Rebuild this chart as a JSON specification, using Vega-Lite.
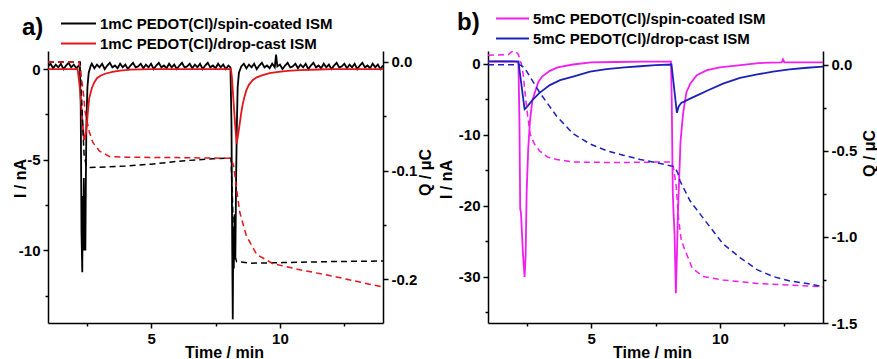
{
"$schema": "https://vega.github.io/schema/vega-lite/v6.json",
"padding": {"left": 12, "top": 10, "right": 0, "bottom": 0},
"spacing": 5,
"config": {
 "locale": {"number": {"decimal": ".", "thousands": ",", "grouping": [3], "currency": ["$", ""], "minus": "-"}},
 "view": {"stroke": null},
 "font": "Liberation Sans",
 "axis": {"domainColor": "#000", "domainWidth": 1.5, "tickColor": "#000", "tickWidth": 1.5, "tickSize": 5, "labelFont": "Liberation Sans", "labelFontSize": 15, "labelFontWeight": "bold", "labelColor": "#000", "titleFont": "Liberation Sans", "titleFontSize": 16, "titleFontWeight": "bold", "titleColor": "#000", "grid": false, "labelPadding": 3},
 "legend": {"orient": "none", "title": null, "symbolType": "stroke", "symbolStrokeWidth": 2, "labelFont": "Liberation Sans", "labelFontSize": 15, "labelFontWeight": "bold", "labelColor": "#000", "labelOffset": 3, "clipHeight": 17, "rowPadding": 3, "padding": 0, "labelLimit": 400},
 "title": {"font": "Liberation Sans", "fontSize": 24, "fontWeight": "bold", "color": "#000", "anchor": "start", "frame": "group"}
},
"resolve": {"scale": {"color": "independent"}, "legend": {"color": "independent"}},
"datasets": {
"a": [
{"s":"1mC PEDOT(Cl)/spin-coated ISM","k":"I","t":1.0,"v":0.15},{"s":"1mC PEDOT(Cl)/spin-coated ISM","k":"I","t":1.1,"v":0.3},{"s":"1mC PEDOT(Cl)/spin-coated ISM","k":"I","t":1.2,"v":0.05},{"s":"1mC PEDOT(Cl)/spin-coated ISM","k":"I","t":1.3,"v":0.25},{"s":"1mC PEDOT(Cl)/spin-coated ISM","k":"I","t":1.4,"v":0.1},{"s":"1mC PEDOT(Cl)/spin-coated ISM","k":"I","t":1.5,"v":0.3},{"s":"1mC PEDOT(Cl)/spin-coated ISM","k":"I","t":1.6,"v":0.0},{"s":"1mC PEDOT(Cl)/spin-coated ISM","k":"I","t":1.7,"v":0.2},{"s":"1mC PEDOT(Cl)/spin-coated ISM","k":"I","t":1.8,"v":0.35},{"s":"1mC PEDOT(Cl)/spin-coated ISM","k":"I","t":1.9,"v":0.1},{"s":"1mC PEDOT(Cl)/spin-coated ISM","k":"I","t":2.0,"v":0.25},{"s":"1mC PEDOT(Cl)/spin-coated ISM","k":"I","t":2.1,"v":0.05},{"s":"1mC PEDOT(Cl)/spin-coated ISM","k":"I","t":2.2,"v":0.2},
{"s":"1mC PEDOT(Cl)/spin-coated ISM","k":"I","t":2.24,"v":0.1},{"s":"1mC PEDOT(Cl)/spin-coated ISM","k":"I","t":2.27,"v":-2},{"s":"1mC PEDOT(Cl)/spin-coated ISM","k":"I","t":2.3,"v":-9},{"s":"1mC PEDOT(Cl)/spin-coated ISM","k":"I","t":2.33,"v":-11.2},{"s":"1mC PEDOT(Cl)/spin-coated ISM","k":"I","t":2.35,"v":-7},{"s":"1mC PEDOT(Cl)/spin-coated ISM","k":"I","t":2.37,"v":-10},{"s":"1mC PEDOT(Cl)/spin-coated ISM","k":"I","t":2.39,"v":-6},{"s":"1mC PEDOT(Cl)/spin-coated ISM","k":"I","t":2.41,"v":-10},{"s":"1mC PEDOT(Cl)/spin-coated ISM","k":"I","t":2.43,"v":-7},{"s":"1mC PEDOT(Cl)/spin-coated ISM","k":"I","t":2.45,"v":-10},{"s":"1mC PEDOT(Cl)/spin-coated ISM","k":"I","t":2.47,"v":-6},{"s":"1mC PEDOT(Cl)/spin-coated ISM","k":"I","t":2.49,"v":-3},{"s":"1mC PEDOT(Cl)/spin-coated ISM","k":"I","t":2.53,"v":-1},{"s":"1mC PEDOT(Cl)/spin-coated ISM","k":"I","t":2.58,"v":-0.2},{"s":"1mC PEDOT(Cl)/spin-coated ISM","k":"I","t":2.65,"v":0.15},
{"s":"1mC PEDOT(Cl)/spin-coated ISM","k":"I","t":2.7,"v":0.3},{"s":"1mC PEDOT(Cl)/spin-coated ISM","k":"I","t":2.8,"v":0.05},{"s":"1mC PEDOT(Cl)/spin-coated ISM","k":"I","t":2.9,"v":0.25},{"s":"1mC PEDOT(Cl)/spin-coated ISM","k":"I","t":3.0,"v":0.1},{"s":"1mC PEDOT(Cl)/spin-coated ISM","k":"I","t":3.1,"v":0.3},{"s":"1mC PEDOT(Cl)/spin-coated ISM","k":"I","t":3.2,"v":0.0},{"s":"1mC PEDOT(Cl)/spin-coated ISM","k":"I","t":3.3,"v":0.2},{"s":"1mC PEDOT(Cl)/spin-coated ISM","k":"I","t":3.4,"v":0.35},{"s":"1mC PEDOT(Cl)/spin-coated ISM","k":"I","t":3.5,"v":0.1},{"s":"1mC PEDOT(Cl)/spin-coated ISM","k":"I","t":3.6,"v":0.2},{"s":"1mC PEDOT(Cl)/spin-coated ISM","k":"I","t":3.7,"v":0.05},{"s":"1mC PEDOT(Cl)/spin-coated ISM","k":"I","t":3.8,"v":0.3},{"s":"1mC PEDOT(Cl)/spin-coated ISM","k":"I","t":3.9,"v":0.1},{"s":"1mC PEDOT(Cl)/spin-coated ISM","k":"I","t":4.0,"v":0.25},{"s":"1mC PEDOT(Cl)/spin-coated ISM","k":"I","t":4.1,"v":0.0},{"s":"1mC PEDOT(Cl)/spin-coated ISM","k":"I","t":4.2,"v":0.2},{"s":"1mC PEDOT(Cl)/spin-coated ISM","k":"I","t":4.3,"v":0.35},{"s":"1mC PEDOT(Cl)/spin-coated ISM","k":"I","t":4.4,"v":0.1},{"s":"1mC PEDOT(Cl)/spin-coated ISM","k":"I","t":4.5,"v":0.15},{"s":"1mC PEDOT(Cl)/spin-coated ISM","k":"I","t":4.6,"v":0.3},{"s":"1mC PEDOT(Cl)/spin-coated ISM","k":"I","t":4.7,"v":0.05},{"s":"1mC PEDOT(Cl)/spin-coated ISM","k":"I","t":4.8,"v":0.25},{"s":"1mC PEDOT(Cl)/spin-coated ISM","k":"I","t":4.9,"v":0.1},{"s":"1mC PEDOT(Cl)/spin-coated ISM","k":"I","t":5.0,"v":0.3},{"s":"1mC PEDOT(Cl)/spin-coated ISM","k":"I","t":5.1,"v":0.0},{"s":"1mC PEDOT(Cl)/spin-coated ISM","k":"I","t":5.2,"v":0.2},{"s":"1mC PEDOT(Cl)/spin-coated ISM","k":"I","t":5.3,"v":0.35},{"s":"1mC PEDOT(Cl)/spin-coated ISM","k":"I","t":5.4,"v":0.1},{"s":"1mC PEDOT(Cl)/spin-coated ISM","k":"I","t":5.5,"v":0.2},{"s":"1mC PEDOT(Cl)/spin-coated ISM","k":"I","t":5.6,"v":0.05},{"s":"1mC PEDOT(Cl)/spin-coated ISM","k":"I","t":5.7,"v":0.3},{"s":"1mC PEDOT(Cl)/spin-coated ISM","k":"I","t":5.8,"v":0.1},{"s":"1mC PEDOT(Cl)/spin-coated ISM","k":"I","t":5.9,"v":0.25},{"s":"1mC PEDOT(Cl)/spin-coated ISM","k":"I","t":6.0,"v":0.0},{"s":"1mC PEDOT(Cl)/spin-coated ISM","k":"I","t":6.1,"v":0.2},{"s":"1mC PEDOT(Cl)/spin-coated ISM","k":"I","t":6.2,"v":0.35},{"s":"1mC PEDOT(Cl)/spin-coated ISM","k":"I","t":6.3,"v":0.1},{"s":"1mC PEDOT(Cl)/spin-coated ISM","k":"I","t":6.4,"v":0.15},{"s":"1mC PEDOT(Cl)/spin-coated ISM","k":"I","t":6.5,"v":0.3},{"s":"1mC PEDOT(Cl)/spin-coated ISM","k":"I","t":6.6,"v":0.05},{"s":"1mC PEDOT(Cl)/spin-coated ISM","k":"I","t":6.7,"v":0.25},{"s":"1mC PEDOT(Cl)/spin-coated ISM","k":"I","t":6.8,"v":0.1},{"s":"1mC PEDOT(Cl)/spin-coated ISM","k":"I","t":6.9,"v":0.3},{"s":"1mC PEDOT(Cl)/spin-coated ISM","k":"I","t":7.0,"v":0.0},{"s":"1mC PEDOT(Cl)/spin-coated ISM","k":"I","t":7.1,"v":0.2},{"s":"1mC PEDOT(Cl)/spin-coated ISM","k":"I","t":7.2,"v":0.35},{"s":"1mC PEDOT(Cl)/spin-coated ISM","k":"I","t":7.3,"v":0.1},{"s":"1mC PEDOT(Cl)/spin-coated ISM","k":"I","t":7.4,"v":0.2},{"s":"1mC PEDOT(Cl)/spin-coated ISM","k":"I","t":7.5,"v":0.05},{"s":"1mC PEDOT(Cl)/spin-coated ISM","k":"I","t":7.6,"v":0.3},{"s":"1mC PEDOT(Cl)/spin-coated ISM","k":"I","t":7.7,"v":0.1},{"s":"1mC PEDOT(Cl)/spin-coated ISM","k":"I","t":7.8,"v":0.25},{"s":"1mC PEDOT(Cl)/spin-coated ISM","k":"I","t":7.9,"v":0.0},{"s":"1mC PEDOT(Cl)/spin-coated ISM","k":"I","t":8.0,"v":0.2},
{"s":"1mC PEDOT(Cl)/spin-coated ISM","k":"I","t":8.08,"v":0.1},{"s":"1mC PEDOT(Cl)/spin-coated ISM","k":"I","t":8.12,"v":-3},{"s":"1mC PEDOT(Cl)/spin-coated ISM","k":"I","t":8.15,"v":-10},{"s":"1mC PEDOT(Cl)/spin-coated ISM","k":"I","t":8.17,"v":-13.8},{"s":"1mC PEDOT(Cl)/spin-coated ISM","k":"I","t":8.19,"v":-9},{"s":"1mC PEDOT(Cl)/spin-coated ISM","k":"I","t":8.21,"v":-11},{"s":"1mC PEDOT(Cl)/spin-coated ISM","k":"I","t":8.24,"v":-8},{"s":"1mC PEDOT(Cl)/spin-coated ISM","k":"I","t":8.27,"v":-10.5},{"s":"1mC PEDOT(Cl)/spin-coated ISM","k":"I","t":8.3,"v":-6},{"s":"1mC PEDOT(Cl)/spin-coated ISM","k":"I","t":8.33,"v":-3},{"s":"1mC PEDOT(Cl)/spin-coated ISM","k":"I","t":8.36,"v":-1},{"s":"1mC PEDOT(Cl)/spin-coated ISM","k":"I","t":8.41,"v":-0.2},{"s":"1mC PEDOT(Cl)/spin-coated ISM","k":"I","t":8.5,"v":0.15},
{"s":"1mC PEDOT(Cl)/spin-coated ISM","k":"I","t":8.6,"v":0.3},{"s":"1mC PEDOT(Cl)/spin-coated ISM","k":"I","t":8.7,"v":0.05},{"s":"1mC PEDOT(Cl)/spin-coated ISM","k":"I","t":8.8,"v":0.25},{"s":"1mC PEDOT(Cl)/spin-coated ISM","k":"I","t":8.9,"v":0.1},{"s":"1mC PEDOT(Cl)/spin-coated ISM","k":"I","t":9.0,"v":0.3},{"s":"1mC PEDOT(Cl)/spin-coated ISM","k":"I","t":9.1,"v":0.0},{"s":"1mC PEDOT(Cl)/spin-coated ISM","k":"I","t":9.2,"v":0.2},{"s":"1mC PEDOT(Cl)/spin-coated ISM","k":"I","t":9.3,"v":0.35},{"s":"1mC PEDOT(Cl)/spin-coated ISM","k":"I","t":9.4,"v":0.1},{"s":"1mC PEDOT(Cl)/spin-coated ISM","k":"I","t":9.5,"v":0.2},{"s":"1mC PEDOT(Cl)/spin-coated ISM","k":"I","t":9.6,"v":0.05},{"s":"1mC PEDOT(Cl)/spin-coated ISM","k":"I","t":9.7,"v":0.3},{"s":"1mC PEDOT(Cl)/spin-coated ISM","k":"I","t":9.8,"v":0.1},{"s":"1mC PEDOT(Cl)/spin-coated ISM","k":"I","t":9.85,"v":0.8},{"s":"1mC PEDOT(Cl)/spin-coated ISM","k":"I","t":9.9,"v":0.15},{"s":"1mC PEDOT(Cl)/spin-coated ISM","k":"I","t":10.0,"v":0.25},{"s":"1mC PEDOT(Cl)/spin-coated ISM","k":"I","t":10.1,"v":0.0},{"s":"1mC PEDOT(Cl)/spin-coated ISM","k":"I","t":10.2,"v":0.2},{"s":"1mC PEDOT(Cl)/spin-coated ISM","k":"I","t":10.3,"v":0.35},{"s":"1mC PEDOT(Cl)/spin-coated ISM","k":"I","t":10.4,"v":0.1},{"s":"1mC PEDOT(Cl)/spin-coated ISM","k":"I","t":10.5,"v":0.15},{"s":"1mC PEDOT(Cl)/spin-coated ISM","k":"I","t":10.6,"v":0.3},{"s":"1mC PEDOT(Cl)/spin-coated ISM","k":"I","t":10.7,"v":0.05},{"s":"1mC PEDOT(Cl)/spin-coated ISM","k":"I","t":10.8,"v":0.25},{"s":"1mC PEDOT(Cl)/spin-coated ISM","k":"I","t":10.9,"v":0.1},{"s":"1mC PEDOT(Cl)/spin-coated ISM","k":"I","t":11.0,"v":0.3},{"s":"1mC PEDOT(Cl)/spin-coated ISM","k":"I","t":11.1,"v":0.0},{"s":"1mC PEDOT(Cl)/spin-coated ISM","k":"I","t":11.2,"v":0.2},{"s":"1mC PEDOT(Cl)/spin-coated ISM","k":"I","t":11.3,"v":0.35},{"s":"1mC PEDOT(Cl)/spin-coated ISM","k":"I","t":11.4,"v":0.1},{"s":"1mC PEDOT(Cl)/spin-coated ISM","k":"I","t":11.5,"v":0.2},{"s":"1mC PEDOT(Cl)/spin-coated ISM","k":"I","t":11.6,"v":0.05},{"s":"1mC PEDOT(Cl)/spin-coated ISM","k":"I","t":11.7,"v":0.3},{"s":"1mC PEDOT(Cl)/spin-coated ISM","k":"I","t":11.8,"v":0.1},{"s":"1mC PEDOT(Cl)/spin-coated ISM","k":"I","t":11.9,"v":0.25},{"s":"1mC PEDOT(Cl)/spin-coated ISM","k":"I","t":12.0,"v":0.0},{"s":"1mC PEDOT(Cl)/spin-coated ISM","k":"I","t":12.1,"v":0.2},{"s":"1mC PEDOT(Cl)/spin-coated ISM","k":"I","t":12.2,"v":0.35},{"s":"1mC PEDOT(Cl)/spin-coated ISM","k":"I","t":12.3,"v":0.1},{"s":"1mC PEDOT(Cl)/spin-coated ISM","k":"I","t":12.4,"v":0.15},{"s":"1mC PEDOT(Cl)/spin-coated ISM","k":"I","t":12.5,"v":0.3},{"s":"1mC PEDOT(Cl)/spin-coated ISM","k":"I","t":12.6,"v":0.05},{"s":"1mC PEDOT(Cl)/spin-coated ISM","k":"I","t":12.7,"v":0.25},{"s":"1mC PEDOT(Cl)/spin-coated ISM","k":"I","t":12.8,"v":0.1},{"s":"1mC PEDOT(Cl)/spin-coated ISM","k":"I","t":12.9,"v":0.3},{"s":"1mC PEDOT(Cl)/spin-coated ISM","k":"I","t":13.0,"v":0.0},{"s":"1mC PEDOT(Cl)/spin-coated ISM","k":"I","t":13.1,"v":0.2},{"s":"1mC PEDOT(Cl)/spin-coated ISM","k":"I","t":13.2,"v":0.35},{"s":"1mC PEDOT(Cl)/spin-coated ISM","k":"I","t":13.3,"v":0.1},{"s":"1mC PEDOT(Cl)/spin-coated ISM","k":"I","t":13.4,"v":0.2},{"s":"1mC PEDOT(Cl)/spin-coated ISM","k":"I","t":13.5,"v":0.05},{"s":"1mC PEDOT(Cl)/spin-coated ISM","k":"I","t":13.6,"v":0.3},{"s":"1mC PEDOT(Cl)/spin-coated ISM","k":"I","t":13.7,"v":0.1},{"s":"1mC PEDOT(Cl)/spin-coated ISM","k":"I","t":13.8,"v":0.25},{"s":"1mC PEDOT(Cl)/spin-coated ISM","k":"I","t":13.9,"v":0.0},{"s":"1mC PEDOT(Cl)/spin-coated ISM","k":"I","t":14.0,"v":0.2},
{"s":"1mC PEDOT(Cl)/drop-cast ISM","k":"I","t":1.0,"v":0.0},{"s":"1mC PEDOT(Cl)/drop-cast ISM","k":"I","t":2.15,"v":0.0},{"s":"1mC PEDOT(Cl)/drop-cast ISM","k":"I","t":2.25,"v":-1.2},{"s":"1mC PEDOT(Cl)/drop-cast ISM","k":"I","t":2.33,"v":-2.8},{"s":"1mC PEDOT(Cl)/drop-cast ISM","k":"I","t":2.4,"v":-3.9},{"s":"1mC PEDOT(Cl)/drop-cast ISM","k":"I","t":2.45,"v":-3.7},{"s":"1mC PEDOT(Cl)/drop-cast ISM","k":"I","t":2.5,"v":-3.2},{"s":"1mC PEDOT(Cl)/drop-cast ISM","k":"I","t":2.55,"v":-2.3},{"s":"1mC PEDOT(Cl)/drop-cast ISM","k":"I","t":2.6,"v":-1.6},{"s":"1mC PEDOT(Cl)/drop-cast ISM","k":"I","t":2.7,"v":-1.05},{"s":"1mC PEDOT(Cl)/drop-cast ISM","k":"I","t":2.8,"v":-0.72},{"s":"1mC PEDOT(Cl)/drop-cast ISM","k":"I","t":2.9,"v":-0.5},{"s":"1mC PEDOT(Cl)/drop-cast ISM","k":"I","t":3.05,"v":-0.35},{"s":"1mC PEDOT(Cl)/drop-cast ISM","k":"I","t":3.25,"v":-0.24},{"s":"1mC PEDOT(Cl)/drop-cast ISM","k":"I","t":3.5,"v":-0.15},{"s":"1mC PEDOT(Cl)/drop-cast ISM","k":"I","t":3.8,"v":-0.08},{"s":"1mC PEDOT(Cl)/drop-cast ISM","k":"I","t":4.2,"v":-0.03},{"s":"1mC PEDOT(Cl)/drop-cast ISM","k":"I","t":5.0,"v":0.0},{"s":"1mC PEDOT(Cl)/drop-cast ISM","k":"I","t":8.1,"v":0.0},{"s":"1mC PEDOT(Cl)/drop-cast ISM","k":"I","t":8.14,"v":-0.5},{"s":"1mC PEDOT(Cl)/drop-cast ISM","k":"I","t":8.2,"v":-1.8},{"s":"1mC PEDOT(Cl)/drop-cast ISM","k":"I","t":8.27,"v":-3.2},{"s":"1mC PEDOT(Cl)/drop-cast ISM","k":"I","t":8.32,"v":-4.1},{"s":"1mC PEDOT(Cl)/drop-cast ISM","k":"I","t":8.38,"v":-3.6},{"s":"1mC PEDOT(Cl)/drop-cast ISM","k":"I","t":8.44,"v":-3.0},{"s":"1mC PEDOT(Cl)/drop-cast ISM","k":"I","t":8.5,"v":-2.4},{"s":"1mC PEDOT(Cl)/drop-cast ISM","k":"I","t":8.56,"v":-1.9},{"s":"1mC PEDOT(Cl)/drop-cast ISM","k":"I","t":8.63,"v":-1.5},{"s":"1mC PEDOT(Cl)/drop-cast ISM","k":"I","t":8.7,"v":-1.16},{"s":"1mC PEDOT(Cl)/drop-cast ISM","k":"I","t":8.8,"v":-0.85},{"s":"1mC PEDOT(Cl)/drop-cast ISM","k":"I","t":8.95,"v":-0.6},{"s":"1mC PEDOT(Cl)/drop-cast ISM","k":"I","t":9.1,"v":-0.45},{"s":"1mC PEDOT(Cl)/drop-cast ISM","k":"I","t":9.33,"v":-0.33},{"s":"1mC PEDOT(Cl)/drop-cast ISM","k":"I","t":9.6,"v":-0.22},{"s":"1mC PEDOT(Cl)/drop-cast ISM","k":"I","t":9.87,"v":-0.16},{"s":"1mC PEDOT(Cl)/drop-cast ISM","k":"I","t":10.3,"v":-0.1},{"s":"1mC PEDOT(Cl)/drop-cast ISM","k":"I","t":10.77,"v":-0.06},{"s":"1mC PEDOT(Cl)/drop-cast ISM","k":"I","t":11.5,"v":-0.02},{"s":"1mC PEDOT(Cl)/drop-cast ISM","k":"I","t":12.0,"v":0.0},{"s":"1mC PEDOT(Cl)/drop-cast ISM","k":"I","t":14.0,"v":0.0},
{"s":"1mC PEDOT(Cl)/spin-coated ISM","k":"Q","t":1.0,"v":0.0},{"s":"1mC PEDOT(Cl)/spin-coated ISM","k":"Q","t":2.25,"v":0.0},{"s":"1mC PEDOT(Cl)/spin-coated ISM","k":"Q","t":2.3,"v":-0.03},{"s":"1mC PEDOT(Cl)/spin-coated ISM","k":"Q","t":2.35,"v":-0.06},{"s":"1mC PEDOT(Cl)/spin-coated ISM","k":"Q","t":2.4,"v":-0.085},{"s":"1mC PEDOT(Cl)/spin-coated ISM","k":"Q","t":2.48,"v":-0.095},{"s":"1mC PEDOT(Cl)/spin-coated ISM","k":"Q","t":2.6,"v":-0.097},{"s":"1mC PEDOT(Cl)/spin-coated ISM","k":"Q","t":3.0,"v":-0.0968},{"s":"1mC PEDOT(Cl)/spin-coated ISM","k":"Q","t":4.0,"v":-0.0958},{"s":"1mC PEDOT(Cl)/spin-coated ISM","k":"Q","t":5.0,"v":-0.094},{"s":"1mC PEDOT(Cl)/spin-coated ISM","k":"Q","t":6.2,"v":-0.091},{"s":"1mC PEDOT(Cl)/spin-coated ISM","k":"Q","t":7.4,"v":-0.089},{"s":"1mC PEDOT(Cl)/spin-coated ISM","k":"Q","t":8.1,"v":-0.0885},{"s":"1mC PEDOT(Cl)/spin-coated ISM","k":"Q","t":8.15,"v":-0.12},{"s":"1mC PEDOT(Cl)/spin-coated ISM","k":"Q","t":8.2,"v":-0.16},{"s":"1mC PEDOT(Cl)/spin-coated ISM","k":"Q","t":8.26,"v":-0.179},{"s":"1mC PEDOT(Cl)/spin-coated ISM","k":"Q","t":8.32,"v":-0.1836},{"s":"1mC PEDOT(Cl)/spin-coated ISM","k":"Q","t":8.9,"v":-0.185},{"s":"1mC PEDOT(Cl)/spin-coated ISM","k":"Q","t":10.1,"v":-0.1845},{"s":"1mC PEDOT(Cl)/spin-coated ISM","k":"Q","t":11.9,"v":-0.1836},{"s":"1mC PEDOT(Cl)/spin-coated ISM","k":"Q","t":14.0,"v":-0.183},
{"s":"1mC PEDOT(Cl)/drop-cast ISM","k":"Q","t":1.0,"v":0.0},{"s":"1mC PEDOT(Cl)/drop-cast ISM","k":"Q","t":2.2,"v":0.0},{"s":"1mC PEDOT(Cl)/drop-cast ISM","k":"Q","t":2.3,"v":-0.015},{"s":"1mC PEDOT(Cl)/drop-cast ISM","k":"Q","t":2.38,"v":-0.03},{"s":"1mC PEDOT(Cl)/drop-cast ISM","k":"Q","t":2.44,"v":-0.046},{"s":"1mC PEDOT(Cl)/drop-cast ISM","k":"Q","t":2.6,"v":-0.064},{"s":"1mC PEDOT(Cl)/drop-cast ISM","k":"Q","t":2.74,"v":-0.074},{"s":"1mC PEDOT(Cl)/drop-cast ISM","k":"Q","t":3.0,"v":-0.082},{"s":"1mC PEDOT(Cl)/drop-cast ISM","k":"Q","t":3.39,"v":-0.087},{"s":"1mC PEDOT(Cl)/drop-cast ISM","k":"Q","t":4.05,"v":-0.0876},{"s":"1mC PEDOT(Cl)/drop-cast ISM","k":"Q","t":6.0,"v":-0.088},{"s":"1mC PEDOT(Cl)/drop-cast ISM","k":"Q","t":8.1,"v":-0.0886},{"s":"1mC PEDOT(Cl)/drop-cast ISM","k":"Q","t":8.2,"v":-0.095},{"s":"1mC PEDOT(Cl)/drop-cast ISM","k":"Q","t":8.32,"v":-0.117},{"s":"1mC PEDOT(Cl)/drop-cast ISM","k":"Q","t":8.44,"v":-0.138},{"s":"1mC PEDOT(Cl)/drop-cast ISM","k":"Q","t":8.7,"v":-0.16},{"s":"1mC PEDOT(Cl)/drop-cast ISM","k":"Q","t":9.1,"v":-0.177},{"s":"1mC PEDOT(Cl)/drop-cast ISM","k":"Q","t":9.73,"v":-0.1855},{"s":"1mC PEDOT(Cl)/drop-cast ISM","k":"Q","t":10.77,"v":-0.191},{"s":"1mC PEDOT(Cl)/drop-cast ISM","k":"Q","t":12.06,"v":-0.197},{"s":"1mC PEDOT(Cl)/drop-cast ISM","k":"Q","t":14.0,"v":-0.207}
],
"b": [
{"s":"5mC PEDOT(Cl)/spin-coated ISM","k":"I","t":1.0,"v":0.3},{"s":"5mC PEDOT(Cl)/spin-coated ISM","k":"I","t":1.5,"v":0.35},{"s":"5mC PEDOT(Cl)/spin-coated ISM","k":"I","t":2.0,"v":0.3},{"s":"5mC PEDOT(Cl)/spin-coated ISM","k":"I","t":2.18,"v":0.3},{"s":"5mC PEDOT(Cl)/spin-coated ISM","k":"I","t":2.22,"v":-8},{"s":"5mC PEDOT(Cl)/spin-coated ISM","k":"I","t":2.25,"v":-20.4},{"s":"5mC PEDOT(Cl)/spin-coated ISM","k":"I","t":2.28,"v":-21},{"s":"5mC PEDOT(Cl)/spin-coated ISM","k":"I","t":2.32,"v":-24},{"s":"5mC PEDOT(Cl)/spin-coated ISM","k":"I","t":2.36,"v":-27},{"s":"5mC PEDOT(Cl)/spin-coated ISM","k":"I","t":2.42,"v":-30},{"s":"5mC PEDOT(Cl)/spin-coated ISM","k":"I","t":2.46,"v":-27},{"s":"5mC PEDOT(Cl)/spin-coated ISM","k":"I","t":2.5,"v":-18},{"s":"5mC PEDOT(Cl)/spin-coated ISM","k":"I","t":2.56,"v":-12},{"s":"5mC PEDOT(Cl)/spin-coated ISM","k":"I","t":2.63,"v":-8},{"s":"5mC PEDOT(Cl)/spin-coated ISM","k":"I","t":2.72,"v":-5.2},{"s":"5mC PEDOT(Cl)/spin-coated ISM","k":"I","t":2.82,"v":-4},{"s":"5mC PEDOT(Cl)/spin-coated ISM","k":"I","t":2.95,"v":-2.6},{"s":"5mC PEDOT(Cl)/spin-coated ISM","k":"I","t":3.1,"v":-1.8},{"s":"5mC PEDOT(Cl)/spin-coated ISM","k":"I","t":3.4,"v":-1.0},{"s":"5mC PEDOT(Cl)/spin-coated ISM","k":"I","t":3.7,"v":-0.5},{"s":"5mC PEDOT(Cl)/spin-coated ISM","k":"I","t":4.3,"v":-0.1},{"s":"5mC PEDOT(Cl)/spin-coated ISM","k":"I","t":5.0,"v":0.2},{"s":"5mC PEDOT(Cl)/spin-coated ISM","k":"I","t":6.0,"v":0.25},{"s":"5mC PEDOT(Cl)/spin-coated ISM","k":"I","t":7.0,"v":0.3},{"s":"5mC PEDOT(Cl)/spin-coated ISM","k":"I","t":8.1,"v":0.3},{"s":"5mC PEDOT(Cl)/spin-coated ISM","k":"I","t":8.13,"v":-5},{"s":"5mC PEDOT(Cl)/spin-coated ISM","k":"I","t":8.17,"v":-18},{"s":"5mC PEDOT(Cl)/spin-coated ISM","k":"I","t":8.2,"v":-21},{"s":"5mC PEDOT(Cl)/spin-coated ISM","k":"I","t":8.24,"v":-24},{"s":"5mC PEDOT(Cl)/spin-coated ISM","k":"I","t":8.29,"v":-32.3},{"s":"5mC PEDOT(Cl)/spin-coated ISM","k":"I","t":8.33,"v":-27},{"s":"5mC PEDOT(Cl)/spin-coated ISM","k":"I","t":8.37,"v":-21},{"s":"5mC PEDOT(Cl)/spin-coated ISM","k":"I","t":8.42,"v":-16},{"s":"5mC PEDOT(Cl)/spin-coated ISM","k":"I","t":8.47,"v":-11},{"s":"5mC PEDOT(Cl)/spin-coated ISM","k":"I","t":8.57,"v":-7},{"s":"5mC PEDOT(Cl)/spin-coated ISM","k":"I","t":8.7,"v":-4},{"s":"5mC PEDOT(Cl)/spin-coated ISM","k":"I","t":8.85,"v":-2.8},{"s":"5mC PEDOT(Cl)/spin-coated ISM","k":"I","t":9.1,"v":-1.6},{"s":"5mC PEDOT(Cl)/spin-coated ISM","k":"I","t":9.5,"v":-0.9},{"s":"5mC PEDOT(Cl)/spin-coated ISM","k":"I","t":10.0,"v":-0.5},{"s":"5mC PEDOT(Cl)/spin-coated ISM","k":"I","t":10.8,"v":-0.2},{"s":"5mC PEDOT(Cl)/spin-coated ISM","k":"I","t":11.5,"v":0.1},{"s":"5mC PEDOT(Cl)/spin-coated ISM","k":"I","t":12.4,"v":0.2},{"s":"5mC PEDOT(Cl)/spin-coated ISM","k":"I","t":12.45,"v":0.6},{"s":"5mC PEDOT(Cl)/spin-coated ISM","k":"I","t":12.5,"v":0.2},{"s":"5mC PEDOT(Cl)/spin-coated ISM","k":"I","t":13.0,"v":0.2},{"s":"5mC PEDOT(Cl)/spin-coated ISM","k":"I","t":14.0,"v":0.2},
{"s":"5mC PEDOT(Cl)/drop-cast ISM","k":"I","t":1.0,"v":0.35},{"s":"5mC PEDOT(Cl)/drop-cast ISM","k":"I","t":2.0,"v":0.35},{"s":"5mC PEDOT(Cl)/drop-cast ISM","k":"I","t":2.18,"v":0.3},{"s":"5mC PEDOT(Cl)/drop-cast ISM","k":"I","t":2.42,"v":-6.4},{"s":"5mC PEDOT(Cl)/drop-cast ISM","k":"I","t":2.48,"v":-6.2},{"s":"5mC PEDOT(Cl)/drop-cast ISM","k":"I","t":2.55,"v":-5.9},{"s":"5mC PEDOT(Cl)/drop-cast ISM","k":"I","t":2.75,"v":-5.0},{"s":"5mC PEDOT(Cl)/drop-cast ISM","k":"I","t":3.0,"v":-4.1},{"s":"5mC PEDOT(Cl)/drop-cast ISM","k":"I","t":3.4,"v":-3.0},{"s":"5mC PEDOT(Cl)/drop-cast ISM","k":"I","t":3.8,"v":-2.3},{"s":"5mC PEDOT(Cl)/drop-cast ISM","k":"I","t":4.3,"v":-1.8},{"s":"5mC PEDOT(Cl)/drop-cast ISM","k":"I","t":4.96,"v":-1.1},{"s":"5mC PEDOT(Cl)/drop-cast ISM","k":"I","t":5.6,"v":-0.75},{"s":"5mC PEDOT(Cl)/drop-cast ISM","k":"I","t":6.3,"v":-0.5},{"s":"5mC PEDOT(Cl)/drop-cast ISM","k":"I","t":6.9,"v":-0.35},{"s":"5mC PEDOT(Cl)/drop-cast ISM","k":"I","t":7.5,"v":-0.2},{"s":"5mC PEDOT(Cl)/drop-cast ISM","k":"I","t":8.12,"v":-0.1},{"s":"5mC PEDOT(Cl)/drop-cast ISM","k":"I","t":8.33,"v":-6.9},{"s":"5mC PEDOT(Cl)/drop-cast ISM","k":"I","t":8.4,"v":-6.0},{"s":"5mC PEDOT(Cl)/drop-cast ISM","k":"I","t":8.5,"v":-5.5},{"s":"5mC PEDOT(Cl)/drop-cast ISM","k":"I","t":8.84,"v":-4.9},{"s":"5mC PEDOT(Cl)/drop-cast ISM","k":"I","t":9.2,"v":-4.3},{"s":"5mC PEDOT(Cl)/drop-cast ISM","k":"I","t":9.5,"v":-3.8},{"s":"5mC PEDOT(Cl)/drop-cast ISM","k":"I","t":10.12,"v":-2.8},{"s":"5mC PEDOT(Cl)/drop-cast ISM","k":"I","t":10.78,"v":-2.0},{"s":"5mC PEDOT(Cl)/drop-cast ISM","k":"I","t":11.45,"v":-1.5},{"s":"5mC PEDOT(Cl)/drop-cast ISM","k":"I","t":12.06,"v":-1.1},{"s":"5mC PEDOT(Cl)/drop-cast ISM","k":"I","t":12.7,"v":-0.8},{"s":"5mC PEDOT(Cl)/drop-cast ISM","k":"I","t":13.38,"v":-0.56},{"s":"5mC PEDOT(Cl)/drop-cast ISM","k":"I","t":14.0,"v":-0.4},
{"s":"5mC PEDOT(Cl)/spin-coated ISM","k":"Q","t":1.0,"v":0.055},{"s":"5mC PEDOT(Cl)/spin-coated ISM","k":"Q","t":1.8,"v":0.06},{"s":"5mC PEDOT(Cl)/spin-coated ISM","k":"Q","t":1.9,"v":0.075},{"s":"5mC PEDOT(Cl)/spin-coated ISM","k":"Q","t":2.05,"v":0.08},{"s":"5mC PEDOT(Cl)/spin-coated ISM","k":"Q","t":2.18,"v":0.06},{"s":"5mC PEDOT(Cl)/spin-coated ISM","k":"Q","t":2.3,"v":0.0},{"s":"5mC PEDOT(Cl)/spin-coated ISM","k":"Q","t":2.36,"v":-0.05},{"s":"5mC PEDOT(Cl)/spin-coated ISM","k":"Q","t":2.43,"v":-0.15},{"s":"5mC PEDOT(Cl)/spin-coated ISM","k":"Q","t":2.5,"v":-0.25},{"s":"5mC PEDOT(Cl)/spin-coated ISM","k":"Q","t":2.63,"v":-0.4},{"s":"5mC PEDOT(Cl)/spin-coated ISM","k":"Q","t":2.8,"v":-0.46},{"s":"5mC PEDOT(Cl)/spin-coated ISM","k":"Q","t":3.0,"v":-0.5},{"s":"5mC PEDOT(Cl)/spin-coated ISM","k":"Q","t":3.3,"v":-0.535},{"s":"5mC PEDOT(Cl)/spin-coated ISM","k":"Q","t":3.67,"v":-0.55},{"s":"5mC PEDOT(Cl)/spin-coated ISM","k":"Q","t":4.3,"v":-0.565},{"s":"5mC PEDOT(Cl)/spin-coated ISM","k":"Q","t":6.0,"v":-0.568},{"s":"5mC PEDOT(Cl)/spin-coated ISM","k":"Q","t":8.1,"v":-0.564},{"s":"5mC PEDOT(Cl)/spin-coated ISM","k":"Q","t":8.2,"v":-0.6},{"s":"5mC PEDOT(Cl)/spin-coated ISM","k":"Q","t":8.3,"v":-0.7},{"s":"5mC PEDOT(Cl)/spin-coated ISM","k":"Q","t":8.4,"v":-0.9},{"s":"5mC PEDOT(Cl)/spin-coated ISM","k":"Q","t":8.5,"v":-1.02},{"s":"5mC PEDOT(Cl)/spin-coated ISM","k":"Q","t":8.76,"v":-1.12},{"s":"5mC PEDOT(Cl)/spin-coated ISM","k":"Q","t":8.92,"v":-1.18},{"s":"5mC PEDOT(Cl)/spin-coated ISM","k":"Q","t":9.34,"v":-1.23},{"s":"5mC PEDOT(Cl)/spin-coated ISM","k":"Q","t":10.12,"v":-1.25},{"s":"5mC PEDOT(Cl)/spin-coated ISM","k":"Q","t":11.44,"v":-1.27},{"s":"5mC PEDOT(Cl)/spin-coated ISM","k":"Q","t":12.72,"v":-1.28},{"s":"5mC PEDOT(Cl)/spin-coated ISM","k":"Q","t":14.0,"v":-1.29},
{"s":"5mC PEDOT(Cl)/drop-cast ISM","k":"Q","t":1.0,"v":0.0},{"s":"5mC PEDOT(Cl)/drop-cast ISM","k":"Q","t":2.2,"v":0.0},{"s":"5mC PEDOT(Cl)/drop-cast ISM","k":"Q","t":2.3,"v":-0.005},{"s":"5mC PEDOT(Cl)/drop-cast ISM","k":"Q","t":2.43,"v":-0.02},{"s":"5mC PEDOT(Cl)/drop-cast ISM","k":"Q","t":2.63,"v":-0.07},{"s":"5mC PEDOT(Cl)/drop-cast ISM","k":"Q","t":3.0,"v":-0.16},{"s":"5mC PEDOT(Cl)/drop-cast ISM","k":"Q","t":3.67,"v":-0.3},{"s":"5mC PEDOT(Cl)/drop-cast ISM","k":"Q","t":4.3,"v":-0.4},{"s":"5mC PEDOT(Cl)/drop-cast ISM","k":"Q","t":4.96,"v":-0.46},{"s":"5mC PEDOT(Cl)/drop-cast ISM","k":"Q","t":5.62,"v":-0.5},{"s":"5mC PEDOT(Cl)/drop-cast ISM","k":"Q","t":6.24,"v":-0.525},{"s":"5mC PEDOT(Cl)/drop-cast ISM","k":"Q","t":6.9,"v":-0.55},{"s":"5mC PEDOT(Cl)/drop-cast ISM","k":"Q","t":7.56,"v":-0.57},{"s":"5mC PEDOT(Cl)/drop-cast ISM","k":"Q","t":8.18,"v":-0.59},{"s":"5mC PEDOT(Cl)/drop-cast ISM","k":"Q","t":8.3,"v":-0.61},{"s":"5mC PEDOT(Cl)/drop-cast ISM","k":"Q","t":8.37,"v":-0.63},{"s":"5mC PEDOT(Cl)/drop-cast ISM","k":"Q","t":8.45,"v":-0.674},{"s":"5mC PEDOT(Cl)/drop-cast ISM","k":"Q","t":8.84,"v":-0.79},{"s":"5mC PEDOT(Cl)/drop-cast ISM","k":"Q","t":9.5,"v":-0.92},{"s":"5mC PEDOT(Cl)/drop-cast ISM","k":"Q","t":10.12,"v":-1.04},{"s":"5mC PEDOT(Cl)/drop-cast ISM","k":"Q","t":10.78,"v":-1.12},{"s":"5mC PEDOT(Cl)/drop-cast ISM","k":"Q","t":11.44,"v":-1.19},{"s":"5mC PEDOT(Cl)/drop-cast ISM","k":"Q","t":12.06,"v":-1.23},{"s":"5mC PEDOT(Cl)/drop-cast ISM","k":"Q","t":12.72,"v":-1.256},{"s":"5mC PEDOT(Cl)/drop-cast ISM","k":"Q","t":13.38,"v":-1.27},{"s":"5mC PEDOT(Cl)/drop-cast ISM","k":"Q","t":14.0,"v":-1.29}
]
},
"hconcat": [
{
 "title": {"text": "a)", "dx": -26, "dy": -6, "offset": -31},
 "width": 335, "height": 272,
 "data": {"name": "a"},
 "encoding": {
  "x": {"field": "t", "type": "quantitative", "scale": {"domain": [1, 14], "nice": false, "zero": false},
        "axis": {"title": "Time / min", "values": [2.5, 5, 7.5, 10, 12.5], "labelExpr": "datum.value % 5 == 0 ? datum.label : ''", "tickSize": {"condition": {"test": "datum.value % 5 == 0", "value": 5}, "value": 3}, "titleX": 176, "titleY": 34, "titleBaseline": "alphabetic", "titleAlign": "center"}},
  "color": {"field": "s", "type": "nominal", "scale": {"domain": ["1mC PEDOT(Cl)/spin-coated ISM", "1mC PEDOT(Cl)/drop-cast ISM"], "range": ["#000000", "#e3161c"]},
        "legend": {"legendX": 12, "legendY": -36, "symbolSize": 1225}}
 },
 "layer": [
  {"transform": [{"filter": "datum.k == 'I'"}],
   "mark": {"type": "line", "strokeWidth": 1.8, "clip": true},
   "encoding": {"y": {"field": "v", "type": "quantitative", "scale": {"domain": [-14, 1], "nice": false, "zero": false},
     "axis": {"title": "I / nA", "values": [0, -2.5, -5, -7.5, -10, -12.5], "labelExpr": "datum.value % 5 == 0 ? datum.label : ''", "tickSize": {"condition": {"test": "datum.value % 5 == 0", "value": 5}, "value": 3}, "titleAngle": 270, "titleX": -28, "titleY": 127, "titleAlign": "center", "titleBaseline": "middle"}}}},
  {"transform": [{"filter": "datum.k == 'Q'"}],
   "mark": {"type": "line", "strokeWidth": 1.5, "strokeDash": [6, 4], "clip": true},
   "encoding": {"y": {"field": "v", "type": "quantitative", "scale": {"domain": [-0.24, 0.01], "nice": false, "zero": false},
     "axis": {"orient": "right", "title": "Q / μC", "values": [0, -0.05, -0.1, -0.15, -0.2], "format": ".1f", "labelExpr": "abs(datum.value * 10 - round(datum.value * 10)) < 0.001 ? datum.label : ''", "tickSize": {"condition": {"test": "abs(datum.value * 10 - round(datum.value * 10)) < 0.001", "value": 5}, "value": 3}, "titleAngle": 270, "titleX": 42, "titleY": 121, "titleAlign": "center", "titleBaseline": "middle"}}}}
 ],
 "resolve": {"scale": {"y": "independent"}}
},
{
 "title": {"text": "b)", "dx": -31, "dy": -6, "offset": -31},
 "width": 335, "height": 272,
 "data": {"name": "b"},
 "encoding": {
  "x": {"field": "t", "type": "quantitative", "scale": {"domain": [1, 14], "nice": false, "zero": false},
        "axis": {"title": "Time / min", "values": [2.5, 5, 7.5, 10, 12.5], "labelExpr": "datum.value % 5 == 0 ? datum.label : ''", "tickSize": {"condition": {"test": "datum.value % 5 == 0", "value": 5}, "value": 3}, "titleX": 164, "titleY": 34, "titleBaseline": "alphabetic", "titleAlign": "center"}},
  "color": {"field": "s", "type": "nominal", "scale": {"domain": ["5mC PEDOT(Cl)/spin-coated ISM", "5mC PEDOT(Cl)/drop-cast ISM"], "range": ["#f01ef0", "#1c22b8"]},
        "legend": {"legendX": 7, "legendY": -41, "symbolSize": 1089}}
 },
 "layer": [
  {"transform": [{"filter": "datum.k == 'I'"}],
   "mark": {"type": "line", "strokeWidth": 1.8, "clip": true},
   "encoding": {"y": {"field": "v", "type": "quantitative", "scale": {"domain": [-36.5, 1.8], "nice": false, "zero": false},
     "axis": {"title": "I / nA", "values": [0, -5, -10, -15, -20, -25, -30, -35], "labelExpr": "datum.value % 10 == 0 ? datum.label : ''", "tickSize": {"condition": {"test": "datum.value % 10 == 0", "value": 5}, "value": 3}, "titleAngle": 270, "titleX": -42, "titleY": 128, "titleAlign": "center", "titleBaseline": "middle"}}}},
  {"transform": [{"filter": "datum.k == 'Q'"}],
   "mark": {"type": "line", "strokeWidth": 1.5, "strokeDash": [6, 4], "clip": true},
   "encoding": {"y": {"field": "v", "type": "quantitative", "scale": {"domain": [-1.5, 0.08], "nice": false, "zero": false},
     "axis": {"orient": "right", "title": "Q / μC", "values": [0, -0.25, -0.5, -0.75, -1, -1.25, -1.5], "format": ".1f", "labelExpr": "abs(datum.value * 2 - round(datum.value * 2)) < 0.001 ? datum.label : ''", "tickSize": {"condition": {"test": "abs(datum.value * 2 - round(datum.value * 2)) < 0.001", "value": 5}, "value": 3}, "titleAngle": 270, "titleX": 46, "titleY": 102, "titleAlign": "center", "titleBaseline": "middle"}}}}
 ],
 "resolve": {"scale": {"y": "independent"}}
}
]
}
